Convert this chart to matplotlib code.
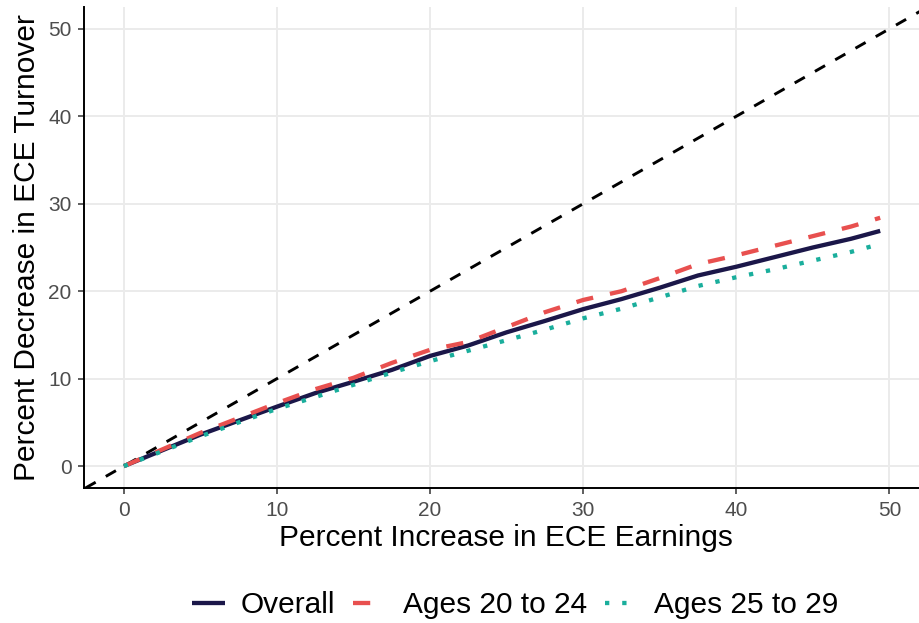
import matplotlib
matplotlib.use("Agg")
import matplotlib.pyplot as plt

plt.rcParams['font.family'] = ['Liberation Sans', 'DejaVu Sans']

# Percent increase in ECE earnings (x) and percent decrease in turnover (y)
earnings_increase = [0, 2.5, 5, 7.5, 10, 12.5, 15, 17.5, 20, 22.5, 25,
                     27.5, 30, 32.5, 35, 37.5, 40, 42.5, 45, 47.5, 49.4]
overall = [0, 1.8, 3.6, 5.2, 6.8, 8.35, 9.65, 11.0, 12.6, 13.8, 15.3,
           16.6, 17.95, 19.1, 20.4, 21.8, 22.8, 23.9, 25.0, 26.0, 26.9]
ages_20_24 = [0, 1.9, 3.8, 5.5, 7.2, 8.8, 10.1, 11.8, 13.3, 14.2, 15.9,
              17.6, 19.0, 20.0, 21.5, 23.1, 24.1, 25.2, 26.3, 27.4, 28.4]
ages_25_29 = [0, 1.7, 3.4, 5.0, 6.55, 7.9, 9.3, 10.7, 12.0, 13.2, 14.4,
              15.6, 16.9, 18.0, 19.3, 20.6, 21.6, 22.5, 23.5, 24.5, 25.4]

series_labels = ['Overall', 'Ages 20 to 24', 'Ages 25 to 29']
x_ticks = [0, 10, 20, 30, 40, 50]
y_ticks = [0, 10, 20, 30, 40, 50]

navy = '#1b1749'
red = '#e8504f'
teal = '#1aae9c'

fig = plt.figure(figsize=(9.2, 6.23), dpi=100)
ax = fig.add_axes([84 / 920, 135 / 623, 836 / 920, 481 / 623])

ax.set_xlim(-2.6, 52.0)
ax.set_ylim(-2.5, 52.5)

# 45-degree reference line
ax.axline((0, 0), slope=1, color='black', lw=2.1, dashes=(4, 4),
          dash_capstyle='butt', zorder=2)

ax.plot(earnings_increase, overall, color=navy, lw=3.1,
        solid_capstyle='butt', label=series_labels[0], zorder=3)
ax.plot(earnings_increase, ages_20_24, color=red, lw=3.1, dashes=(4, 4),
        dash_capstyle='butt', label=series_labels[1], zorder=4)
ax.plot(earnings_increase, ages_25_29, color=teal, lw=3.1, dashes=(1, 3),
        dash_capstyle='butt', label=series_labels[2], zorder=5)

ax.set_xticks(x_ticks)
ax.set_yticks(y_ticks)
ax.grid(True, color='#ebebeb', lw=1.4, zorder=0)
ax.set_axisbelow(True)

for side in ['top', 'right']:
    ax.spines[side].set_visible(False)
for side in ['left', 'bottom']:
    ax.spines[side].set_color('black')
    ax.spines[side].set_linewidth(1.4)

ax.tick_params(axis='both', length=4, width=1.1, color='#333333',
               labelcolor='#4d4d4d', labelsize=15, pad=5)

ax.set_xlabel('Percent Increase in ECE Earnings', fontsize=21.5,
              color='black', labelpad=3)
ax.set_ylabel('Percent Decrease in ECE Turnover', fontsize=21.5,
              color='black', labelpad=5)
ax.xaxis.label.set_x(0.505)

leg = fig.legend(loc='center', bbox_to_anchor=(515 / 920, 1 - 605 / 623),
                 ncol=3, frameon=False, fontsize=21.5, handlelength=1.1,
                 handletextpad=0.55, columnspacing=0.6, borderaxespad=0)

fig.savefig('out.png', dpi=100, facecolor='white')
